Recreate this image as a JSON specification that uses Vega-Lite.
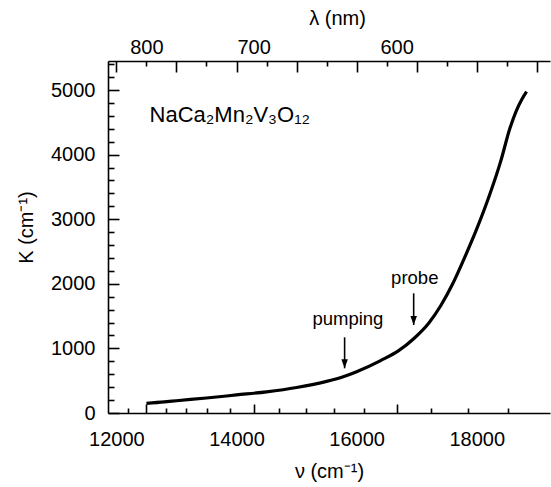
{
  "$schema": "https://vega.github.io/schema/vega-lite/v6.json",
  "width": 442,
  "height": 352,
  "autosize": "none",
  "padding": {"left": 108, "top": 61, "right": 1, "bottom": 74},
  "background": "white",
  "config": {
    "view": {"stroke": null},
    "font": "Liberation Sans",
    "axis": {
      "domainColor": "black",
      "domainWidth": 1.6,
      "tickColor": "black",
      "tickWidth": 1.6,
      "labelColor": "black",
      "labelFont": "Liberation Sans",
      "labelFontSize": 20,
      "titleFont": "Liberation Sans",
      "titleFontSize": 20,
      "titleFontWeight": "normal",
      "titleColor": "black",
      "gridColor": "black",
      "gridWidth": 1.6,
      "gridOpacity": 1
    }
  },
  "datasets": {
    "curve": [
      {"nu": 12500, "K": 150},
      {"nu": 12800, "K": 172},
      {"nu": 13000, "K": 190},
      {"nu": 13500, "K": 232},
      {"nu": 14000, "K": 280},
      {"nu": 14500, "K": 328},
      {"nu": 15000, "K": 395},
      {"nu": 15500, "K": 490},
      {"nu": 15800, "K": 570},
      {"nu": 16000, "K": 640},
      {"nu": 16400, "K": 812},
      {"nu": 16700, "K": 965},
      {"nu": 16950, "K": 1150},
      {"nu": 17200, "K": 1390},
      {"nu": 17400, "K": 1660},
      {"nu": 17600, "K": 2000},
      {"nu": 17800, "K": 2410},
      {"nu": 18000, "K": 2850},
      {"nu": 18200, "K": 3340},
      {"nu": 18400, "K": 3900},
      {"nu": 18550, "K": 4400},
      {"nu": 18650, "K": 4660},
      {"nu": 18750, "K": 4855},
      {"nu": 18830, "K": 4975}
    ],
    "arrows": [
      {"nu": 15800, "K1": 1172, "K2": 692},
      {"nu": 16950, "K1": 1853, "K2": 1362}
    ],
    "notes": [
      {"nu": 15855, "K": 1450, "text": "pumping"},
      {"nu": 16968, "K": 2085, "text": "probe"}
    ],
    "formula": [
      {"nu": 12552, "K": 4613, "text": "NaCa₂Mn₂V₃O₁₂"}
    ]
  },
  "resolve": {"axis": {"x": "independent", "y": "independent"}},
  "layer": [
    {
      "data": {"name": "curve"},
      "mark": {"type": "line", "color": "black", "strokeWidth": 3.2, "interpolate": "monotone"},
      "encoding": {
        "x": {
          "field": "nu", "type": "quantitative",
          "scale": {"domain": [11860, 19220], "nice": false, "zero": false},
          "axis": {
            "orient": "bottom",
            "title": "ν (cm⁻¹)",
            "values": [12000, 14000, 16000, 18000],
            "format": "d",
            "ticks": false,
            "grid": false,
            "labelPadding": 16,
            "titlePadding": 12
          }
        },
        "y": {
          "field": "K", "type": "quantitative",
          "scale": {"domain": [0, 5450], "nice": false},
          "axis": {
            "orient": "left",
            "title": "K (cm⁻¹)",
            "values": [0, 1000, 2000, 3000, 4000, 5000],
            "format": "d",
            "ticks": false,
            "grid": false,
            "labelPadding": 13,
            "titlePadding": 14,
            "titleY": 166
          }
        }
      }
    },
    {
      "data": {"name": "curve"},
      "mark": {"type": "point", "opacity": 0},
      "encoding": {
        "x": {
          "field": "nu", "type": "quantitative",
          "axis": {
            "orient": "bottom", "title": null, "domain": false, "labels": false, "ticks": false,
            "grid": true, "gridDash": [11, 2000],
            "values": [12000, 13000, 14000, 15000, 16000, 17000, 18000, 19000]
          }
        },
        "y": {
          "field": "K", "type": "quantitative",
          "axis": {
            "orient": "left", "title": null, "domain": false, "labels": false, "ticks": false,
            "grid": true, "gridDash": [11, 2000],
            "values": [0, 1000, 2000, 3000, 4000, 5000]
          }
        }
      }
    },
    {
      "data": {"name": "curve"},
      "mark": {"type": "point", "opacity": 0},
      "encoding": {
        "x": {
          "field": "nu", "type": "quantitative",
          "axis": {
            "orient": "bottom", "title": null, "domain": false, "labels": false, "ticks": false,
            "grid": true, "gridDash": [5, 2000],
            "values": [12500, 13500, 14500, 15500, 16500, 17500, 18500]
          }
        },
        "y": {
          "field": "K", "type": "quantitative",
          "axis": {
            "orient": "left", "title": null, "domain": false, "labels": false, "ticks": false,
            "grid": true, "gridDash": [6, 2000],
            "values": [200, 400, 600, 800, 1200, 1400, 1600, 1800, 2200, 2400, 2600, 2800, 3200, 3400, 3600, 3800, 4200, 4400, 4600, 4800, 5200, 5400]
          }
        }
      }
    },
    {
      "data": {"name": "curve"},
      "mark": {"type": "point", "opacity": 0},
      "encoding": {
        "x": {
          "field": "nu", "type": "quantitative",
          "axis": {
            "orient": "top",
            "title": "λ (nm)",
            "titleX": 229,
            "values": [12500, 14285.7142857, 16666.6666667],
            "labelExpr": "format(round(1e7 / datum.value), 'd')",
            "ticks": false,
            "grid": false,
            "labelPadding": 4,
            "titlePadding": 9
          }
        },
        "y": {"field": "K", "type": "quantitative", "axis": null}
      }
    },
    {
      "data": {"name": "curve"},
      "mark": {"type": "point", "opacity": 0},
      "encoding": {
        "x": {
          "field": "nu", "type": "quantitative",
          "axis": {
            "orient": "top", "title": null, "domain": false, "labels": false, "ticks": false,
            "grid": true, "gridDash": [9, 2000],
            "values": [12500, 14285.7142857, 16666.6666667]
          }
        },
        "y": {"field": "K", "type": "quantitative", "axis": null}
      }
    },
    {
      "data": {"name": "curve"},
      "mark": {"type": "point", "opacity": 0},
      "encoding": {
        "x": {
          "field": "nu", "type": "quantitative",
          "axis": {
            "orient": "top", "title": null, "domain": false, "labels": false, "ticks": false,
            "grid": true, "gridDash": [5, 2000],
            "values": [12195.1219512, 12820.5128205, 13157.8947368, 13513.5135135, 13888.8888889, 14705.8823529, 15151.5151515, 15625, 16129.0322581, 17241.3793103, 17857.1428571, 18518.5185185]
          }
        },
        "y": {"field": "K", "type": "quantitative", "axis": null}
      }
    },
    {
      "data": {"name": "arrows"},
      "mark": {"type": "rule", "color": "black", "strokeWidth": 1.6},
      "encoding": {
        "x": {"field": "nu", "type": "quantitative", "axis": null},
        "y": {"field": "K1", "type": "quantitative", "axis": null},
        "y2": {"field": "K2"}
      }
    },
    {
      "data": {"name": "arrows"},
      "mark": {"type": "point", "shape": "M-0.36,-1L0.36,-1L0,0Z", "filled": true, "color": "black", "opacity": 1, "size": 330, "strokeWidth": 0},
      "encoding": {
        "x": {"field": "nu", "type": "quantitative", "axis": null},
        "y": {"field": "K2", "type": "quantitative", "axis": null}
      }
    },
    {
      "data": {"name": "notes"},
      "mark": {"type": "text", "align": "center", "baseline": "middle", "fontSize": 18.5, "color": "black", "font": "Liberation Sans"},
      "encoding": {
        "x": {"field": "nu", "type": "quantitative", "axis": null},
        "y": {"field": "K", "type": "quantitative", "axis": null},
        "text": {"field": "text"}
      }
    },
    {
      "data": {"name": "formula"},
      "mark": {"type": "text", "align": "left", "baseline": "middle", "fontSize": 22, "color": "black", "font": "Liberation Sans"},
      "encoding": {
        "x": {"field": "nu", "type": "quantitative", "axis": null},
        "y": {"field": "K", "type": "quantitative", "axis": null},
        "text": {"field": "text"}
      }
    }
  ]
}
